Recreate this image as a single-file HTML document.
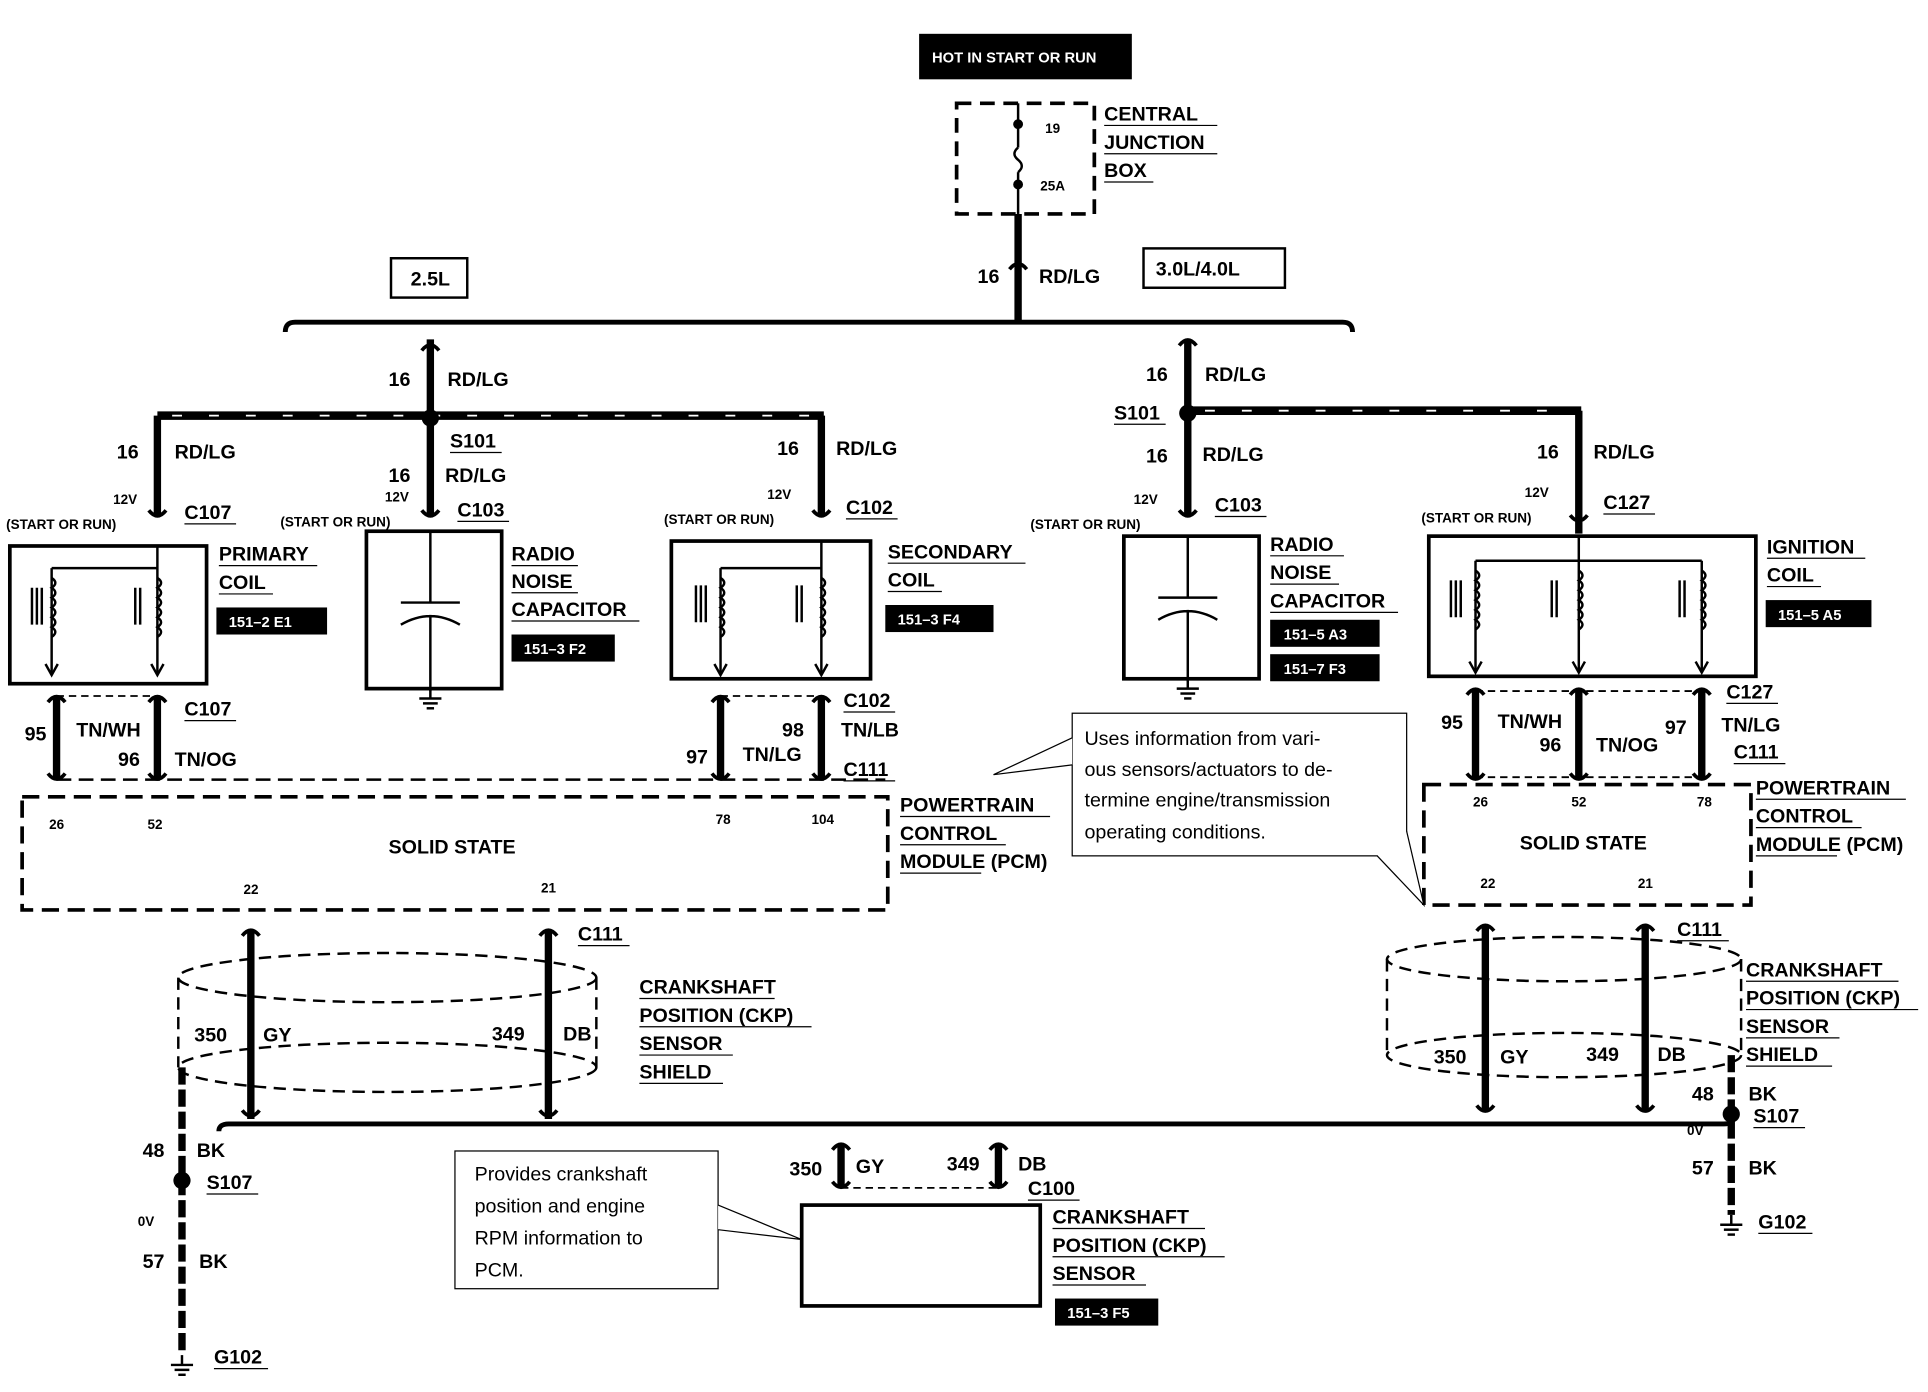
<!DOCTYPE html>
<html><head><meta charset="utf-8"><style>
html,body{margin:0;padding:0;background:#fff;}
svg{display:block;}
text{font-family:"Liberation Sans",Arial,sans-serif;fill:#000;}
.b{font-weight:bold;font-size:16px;}
.s{font-size:11px;font-weight:bold;}
.n{font-size:16px;}
.w{fill:#fff;font-size:12px;font-weight:bold;}
</style></head><body>
<svg width="1928" height="1392" viewBox="0 0 1568 1132" preserveAspectRatio="none" xmlns="http://www.w3.org/2000/svg">
<defs>
<g id="gnd"><line x1="0" y1="0" x2="0" y2="8" stroke="#000" stroke-width="2"/><line x1="-9" y1="8" x2="9" y2="8" stroke="#000" stroke-width="2"/><line x1="-6" y1="12" x2="6" y2="12" stroke="#000" stroke-width="2"/><line x1="-3" y1="16" x2="3" y2="16" stroke="#000" stroke-width="2"/></g>
<g id="ctop"><path d="M-7,-5 Q0,4 7,-5" fill="none" stroke="#000" stroke-width="3"/></g>
<g id="cbot"><path d="M-7,5 Q0,-4 7,5" fill="none" stroke="#000" stroke-width="3"/></g>
<path id="arr" d="M-5,-9 L0,0 L5,-9" fill="none" stroke="#000" stroke-width="2"/>
</defs>
<g stroke="#000" fill="none">
<rect x="748" y="28" width="172" height="36" fill="#000"/>
<rect x="778" y="84" width="112" height="90" stroke-width="3" stroke-dasharray="12 7"/>
<line x1="828" y1="84" x2="828" y2="120" stroke-width="2"/>
<path d="M828,120 q-6,5 0,10 q6,5 0,10" stroke-width="2"/>
<line x1="828" y1="140" x2="828" y2="174" stroke-width="2"/>
<line x1="828" y1="174" x2="828" y2="262" stroke-width="6"/>
<rect x="318" y="210" width="62" height="32" stroke-width="2"/>
<rect x="930" y="202" width="115" height="32" stroke-width="2"/>
<path d="M232,270 Q232,262 240,262 L1092,262 Q1100,262 1100,270" stroke-width="4"/>
<line x1="350" y1="276" x2="350" y2="420" stroke-width="6"/>
<line x1="128" y1="338" x2="670" y2="338" stroke-width="7"/>
<line x1="128" y1="338" x2="128" y2="420" stroke-width="6"/>
<line x1="668" y1="338" x2="668" y2="420" stroke-width="6"/>
<line x1="140" y1="338" x2="660" y2="338" stroke="#fff" stroke-width="1.5" stroke-dasharray="8 22"/>
<rect x="8" y="444" width="160" height="112" stroke-width="3"/>
<rect x="298" y="432" width="110" height="128" stroke-width="3"/>
<rect x="546" y="440" width="162" height="112" stroke-width="3"/>
<path d="M128,444 L128,548 M42,462 L42,548 M128,462 L42,462" stroke-width="2"/>
<path d="M42,470 q6,4 0,8 q6,4 0,8 q6,4 0,8 q6,4 0,8 q6,4 0,8 q6,4 0,8" stroke-width="2"/>
<path d="M128,470 q6,4 0,8 q6,4 0,8 q6,4 0,8 q6,4 0,8 q6,4 0,8 q6,4 0,8" stroke-width="2"/>
<path d="M26,478 v30 M30,478 v30 M34,478 v30 M110,478 v30 M114,478 v30" stroke-width="2"/>
<path d="M350,432 V490 M326,490 H374 M326,508 Q350,494 374,508 M350,500 V562" stroke-width="2"/>
<path d="M586,462 L668,462 M586,462 V548 M668,440 V548" stroke-width="2"/>
<path d="M586,470 q6,4 0,8 q6,4 0,8 q6,4 0,8 q6,4 0,8 q6,4 0,8 q6,4 0,8" stroke-width="2"/>
<path d="M668,470 q6,4 0,8 q6,4 0,8 q6,4 0,8 q6,4 0,8 q6,4 0,8 q6,4 0,8" stroke-width="2"/>
<path d="M566,476 v30 M570,476 v30 M574,476 v30 M648,476 v30 M652,476 v30" stroke-width="2"/>
<line x1="46" y1="566" x2="46" y2="634" stroke-width="6"/>
<line x1="128" y1="566" x2="128" y2="634" stroke-width="6"/>
<line x1="586" y1="566" x2="586" y2="634" stroke-width="6"/>
<line x1="668" y1="566" x2="668" y2="634" stroke-width="6"/>
<line x1="46" y1="566" x2="128" y2="566" stroke-width="1.5" stroke-dasharray="6 4"/>
<line x1="586" y1="566" x2="668" y2="566" stroke-width="1.5" stroke-dasharray="6 4"/>
<line x1="46" y1="634" x2="720" y2="634" stroke-width="2" stroke-dasharray="12 6"/>
<rect x="18" y="648" width="704" height="92" stroke-width="3" stroke-dasharray="14 7"/>
<ellipse cx="315" cy="795" rx="170" ry="20" stroke-width="2" stroke-dasharray="10 6"/>
<ellipse cx="315" cy="868" rx="170" ry="20" stroke-width="2" stroke-dasharray="10 6"/>
<line x1="145" y1="795" x2="145" y2="868" stroke-width="2" stroke-dasharray="10 6"/>
<line x1="485" y1="795" x2="485" y2="868" stroke-width="2" stroke-dasharray="10 6"/>
<line x1="204" y1="756" x2="204" y2="910" stroke-width="6"/>
<line x1="446" y1="756" x2="446" y2="910" stroke-width="6"/>
<line x1="148" y1="868" x2="148" y2="1100" stroke-width="6" stroke-dasharray="14 4"/>
<path d="M178,920 Q178,914 186,914 L1402,914 Q1410,914 1410,908" stroke-width="4"/>
<line x1="684" y1="930" x2="684" y2="966" stroke-width="6"/>
<line x1="812" y1="930" x2="812" y2="966" stroke-width="6"/>
<line x1="684" y1="966" x2="812" y2="966" stroke-width="1.5" stroke-dasharray="6 4"/>
<rect x="652" y="980" width="194" height="82" stroke-width="3"/>
<rect x="370" y="936" width="214" height="112" stroke-width="1"/>
<path d="M584,980 L652,1008 L584,1000" stroke-width="1" fill="#fff"/>
<line x1="966" y1="276" x2="966" y2="420" stroke-width="6"/>
<line x1="966" y1="334" x2="1286" y2="334" stroke-width="7"/>
<line x1="980" y1="334" x2="1276" y2="334" stroke="#fff" stroke-width="1.5" stroke-dasharray="8 22"/>
<line x1="1284" y1="334" x2="1284" y2="434" stroke-width="6"/>
<rect x="914" y="436" width="110" height="116" stroke-width="3"/>
<path d="M966,436 V486 M942,486 H990 M942,504 Q966,490 990,504 M966,496 V554" stroke-width="2"/>
<rect x="1162" y="436" width="266" height="114" stroke-width="3"/>
<path d="M1200,456 H1384 M1200,456 V546 M1284,436 V546 M1384,456 V546" stroke-width="2"/>
<path d="M1200,464 q6,4 0,8 q6,4 0,8 q6,4 0,8 q6,4 0,8 q6,4 0,8 q6,4 0,8" stroke-width="2"/>
<path d="M1284,464 q6,4 0,8 q6,4 0,8 q6,4 0,8 q6,4 0,8 q6,4 0,8 q6,4 0,8" stroke-width="2"/>
<path d="M1384,464 q6,4 0,8 q6,4 0,8 q6,4 0,8 q6,4 0,8 q6,4 0,8 q6,4 0,8" stroke-width="2"/>
<path d="M1180,472 v30 M1184,472 v30 M1188,472 v30 M1262,472 v30 M1266,472 v30 M1366,472 v30 M1370,472 v30" stroke-width="2"/>
<line x1="1200" y1="560" x2="1200" y2="634" stroke-width="6"/>
<line x1="1284" y1="560" x2="1284" y2="634" stroke-width="6"/>
<line x1="1384" y1="560" x2="1384" y2="634" stroke-width="6"/>
<line x1="1200" y1="562" x2="1384" y2="562" stroke-width="1.5" stroke-dasharray="6 4"/>
<line x1="1200" y1="632" x2="1384" y2="632" stroke-width="1.5" stroke-dasharray="6 4"/>
<rect x="1158" y="638" width="266" height="98" stroke-width="3" stroke-dasharray="14 7"/>
<rect x="872" y="580" width="272" height="116" stroke-width="1"/>
<path d="M872,600 L808,630 L872,622" stroke-width="1" fill="#fff"/>
<path d="M1144,676 L1158,736 L1120,696" stroke-width="1" fill="#fff"/>
<ellipse cx="1272" cy="780" rx="144" ry="18" stroke-width="2" stroke-dasharray="10 6"/>
<ellipse cx="1272" cy="858" rx="144" ry="18" stroke-width="2" stroke-dasharray="10 6"/>
<line x1="1128" y1="780" x2="1128" y2="858" stroke-width="2" stroke-dasharray="10 6"/>
<line x1="1416" y1="780" x2="1416" y2="858" stroke-width="2" stroke-dasharray="10 6"/>
<line x1="1208" y1="752" x2="1208" y2="904" stroke-width="6"/>
<line x1="1338" y1="752" x2="1338" y2="904" stroke-width="6"/>
<line x1="1408" y1="858" x2="1408" y2="988" stroke-width="6" stroke-dasharray="14 4"/>
</g>
<use href="#arr" x="42" y="549"/><use href="#arr" x="128" y="549"/>
<use href="#arr" x="586" y="549"/><use href="#arr" x="668" y="549"/>
<use href="#arr" x="1200" y="547"/><use href="#arr" x="1284" y="547"/><use href="#arr" x="1384" y="547"/>
<g fill="#000">
<circle cx="828" cy="101" r="4"/><circle cx="828" cy="150" r="4"/>
<circle cx="350" cy="340" r="7"/><circle cx="966" cy="336" r="7"/>
<circle cx="148" cy="960" r="7"/><circle cx="1408" cy="906" r="7"/>
</g>
<use href="#gnd" x="350" y="560"/><use href="#gnd" x="966" y="552"/>
<use href="#gnd" x="148" y="1102"/><use href="#gnd" x="1408" y="988"/>
<use href="#cbot" x="350" y="280"/><use href="#cbot" x="966" y="276"/><use href="#cbot" x="828" y="214"/>
<use href="#ctop" x="128" y="420"/><use href="#ctop" x="350" y="420"/><use href="#ctop" x="668" y="420"/>
<use href="#ctop" x="966" y="420"/><use href="#ctop" x="1284" y="424"/>
<use href="#cbot" x="46" y="566"/><use href="#cbot" x="128" y="566"/><use href="#cbot" x="586" y="566"/><use href="#cbot" x="668" y="566"/>
<use href="#ctop" x="46" y="634"/><use href="#ctop" x="128" y="634"/><use href="#ctop" x="586" y="634"/><use href="#ctop" x="668" y="634"/>
<use href="#cbot" x="1200" y="560"/><use href="#cbot" x="1284" y="560"/><use href="#cbot" x="1384" y="560"/>
<use href="#ctop" x="1200" y="634"/><use href="#ctop" x="1284" y="634"/><use href="#ctop" x="1384" y="634"/>
<use href="#cbot" x="204" y="756"/><use href="#cbot" x="446" y="756"/><use href="#ctop" x="204" y="908"/><use href="#ctop" x="446" y="908"/>
<use href="#cbot" x="1208" y="752"/><use href="#cbot" x="1338" y="752"/><use href="#ctop" x="1208" y="904"/><use href="#ctop" x="1338" y="904"/>
<use href="#cbot" x="684" y="930"/><use href="#cbot" x="812" y="930"/><use href="#ctop" x="684" y="966"/><use href="#ctop" x="812" y="966"/>
<g fill="#000">
<rect x="176" y="494" width="90" height="22"/><rect x="416" y="516" width="84" height="22"/>
<rect x="720" y="492" width="88" height="22"/><rect x="1033" y="504" width="89" height="22"/>
<rect x="1033" y="532" width="89" height="22"/><rect x="1436" y="488" width="86" height="22"/>
<rect x="858" y="1056" width="84" height="22"/>
</g>
<text class="w" x="758" y="51">HOT IN START OR RUN</text>
<text class="w" x="186" y="510">151–2 E1</text><text class="w" x="426" y="532">151–3 F2</text>
<text class="w" x="730" y="508">151–3 F4</text><text class="w" x="1044" y="520">151–5 A3</text>
<text class="w" x="1044" y="548">151–7 F3</text><text class="w" x="1446" y="504">151–5 A5</text>
<text class="w" x="868" y="1072">151–3 F5</text>
<g class="b">
<text x="898" y="98">CENTRAL</text><text x="898" y="121">JUNCTION</text><text x="898" y="144">BOX</text>
<text x="334" y="232">2.5L</text><text x="940" y="224">3.0L/4.0L</text>
<text x="795" y="230">16</text><text x="845" y="230">RD/LG</text>
<text x="316" y="314">16</text><text x="364" y="314">RD/LG</text>
<text x="95" y="373">16</text><text x="142" y="373">RD/LG</text><text x="150" y="422">C107</text>
<text x="366" y="364">S101</text><text x="316" y="392">16</text><text x="362" y="392">RD/LG</text><text x="372" y="420">C103</text>
<text x="632" y="370">16</text><text x="680" y="370">RD/LG</text><text x="688" y="418">C102</text>
<text x="178" y="456">PRIMARY</text><text x="178" y="479">COIL</text>
<text x="416" y="456">RADIO</text><text x="416" y="478">NOISE</text><text x="416" y="501">CAPACITOR</text>
<text x="722" y="454">SECONDARY</text><text x="722" y="477">COIL</text>
<text x="20" y="602">95</text><text x="62" y="599">TN/WH</text><text x="150" y="582">C107</text><text x="96" y="623">96</text><text x="142" y="623">TN/OG</text>
<text x="686" y="575">C102</text><text x="636" y="599">98</text><text x="684" y="599">TN/LB</text><text x="558" y="621">97</text><text x="604" y="619">TN/LG</text><text x="686" y="631">C111</text>
<text x="316" y="694">SOLID STATE</text>
<text x="732" y="660">POWERTRAIN</text><text x="732" y="683">CONTROL</text><text x="732" y="706">MODULE (PCM)</text>
<text x="470" y="765">C111</text>
<text x="520" y="808">CRANKSHAFT</text><text x="520" y="831">POSITION (CKP)</text><text x="520" y="854">SENSOR</text><text x="520" y="877">SHIELD</text>
<text x="158" y="847">350</text><text x="214" y="847">GY</text><text x="400" y="846">349</text><text x="458" y="846">DB</text>
<text x="116" y="941">48</text><text x="160" y="941">BK</text><text x="168" y="967">S107</text>
<text x="116" y="1031">57</text><text x="162" y="1031">BK</text><text x="174" y="1109">G102</text>
<text x="642" y="956">350</text><text x="696" y="954">GY</text><text x="770" y="952">349</text><text x="828" y="952">DB</text><text x="836" y="972">C100</text>
<text x="856" y="995">CRANKSHAFT</text><text x="856" y="1018">POSITION (CKP)</text><text x="856" y="1041">SENSOR</text>
<text x="932" y="310">16</text><text x="980" y="310">RD/LG</text><text x="906" y="341">S101</text>
<text x="932" y="376">16</text><text x="978" y="375">RD/LG</text><text x="988" y="416">C103</text>
<text x="1250" y="373">16</text><text x="1296" y="373">RD/LG</text><text x="1304" y="414">C127</text>
<text x="1033" y="448">RADIO</text><text x="1033" y="471">NOISE</text><text x="1033" y="494">CAPACITOR</text>
<text x="1437" y="450">IGNITION</text><text x="1437" y="473">COIL</text>
<text x="1172" y="593">95</text><text x="1218" y="592">TN/WH</text><text x="1252" y="611">96</text><text x="1298" y="611">TN/OG</text>
<text x="1354" y="597">97</text><text x="1404" y="568">C127</text><text x="1400" y="595">TN/LG</text><text x="1410" y="617">C111</text>
<text x="1236" y="691">SOLID STATE</text>
<text x="1428" y="646">POWERTRAIN</text><text x="1428" y="669">CONTROL</text><text x="1428" y="692">MODULE (PCM)</text>
<text x="1364" y="761">C111</text>
<text x="1420" y="794">CRANKSHAFT</text><text x="1420" y="817">POSITION (CKP)</text><text x="1420" y="840">SENSOR</text><text x="1420" y="863">SHIELD</text>
<text x="1166" y="865">350</text><text x="1220" y="865">GY</text><text x="1290" y="863">349</text><text x="1348" y="863">DB</text>
<text x="1376" y="895">48</text><text x="1422" y="895">BK</text><text x="1426" y="913">S107</text>
<text x="1376" y="955">57</text><text x="1422" y="955">BK</text><text x="1430" y="999">G102</text>
</g>
<g class="s">
<text x="850" y="108">19</text><text x="846" y="155">25A</text>
<text x="92" y="410">12V</text><text x="5" y="430">(START OR RUN)</text>
<text x="313" y="408">12V</text><text x="228" y="428">(START OR RUN)</text>
<text x="624" y="406">12V</text><text x="540" y="426">(START OR RUN)</text>
<text x="922" y="410">12V</text><text x="838" y="430">(START OR RUN)</text>
<text x="1240" y="404">12V</text><text x="1156" y="425">(START OR RUN)</text>
<text x="40" y="674">26</text><text x="120" y="674">52</text><text x="582" y="670">78</text><text x="660" y="670">104</text>
<text x="198" y="727">22</text><text x="440" y="726">21</text>
<text x="1198" y="656">26</text><text x="1278" y="656">52</text><text x="1380" y="656">78</text>
<text x="1204" y="722">22</text><text x="1332" y="722">21</text>
<text x="112" y="997">0V</text><text x="1372" y="923">0V</text>
</g>
<g class="n">
<text x="882" y="606">Uses information from vari-</text><text x="882" y="631">ous sensors/actuators to de-</text>
<text x="882" y="656">termine engine/transmission</text><text x="882" y="682">operating conditions.</text>
<text x="386" y="960">Provides crankshaft</text><text x="386" y="986">position and engine</text>
<text x="386" y="1012">RPM information to</text><text x="386" y="1038">PCM.</text>
</g>
<g stroke="#000" stroke-width="1">
<path d="M898,102h92M898,125h92M898,148h40M178,460h80M178,483h44M416,460h54M416,482h54M416,505h104M722,458h112M722,481h44M732,664h122M732,687h86M732,710h66M520,812h110M520,835h140M520,858h76M520,881h68M856,999h124M856,1022h140M856,1045h76M1033,452h60M1033,475h56M1033,498h104M1437,454h80M1437,477h44M1428,650h122M1428,673h86M1428,696h66M1420,798h124M1420,821h140M1420,844h76M1420,867h70M150,426h42M372,424h42M688,422h42M366,368h42M150,586h42M686,579h42M686,635h42M988,420h42M906,345h42M1304,418h42M1404,572h42M1410,621h42M470,769h42M1364,765h42M168,971h42M1426,917h42M836,976h42M174,1113h44M1430,1003h44"/>
</g>
</svg>
</body></html>
